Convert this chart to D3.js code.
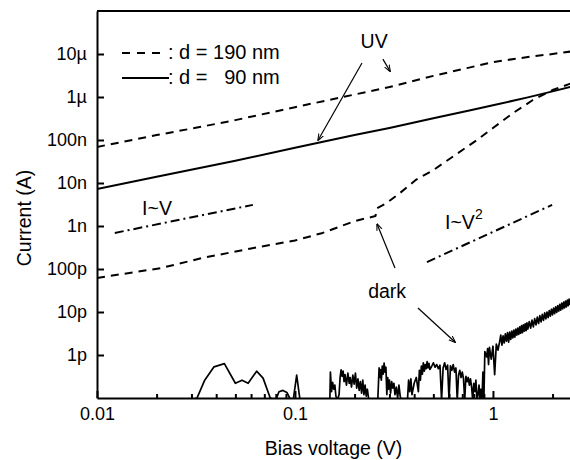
<!DOCTYPE html>
<html>
<head>
<meta charset="utf-8">
<script src="https://d3js.org/d3.v7.min.js"></script>
<style>
    html, body {
        margin: 0;
        padding: 0;
        background: #fff;
        overflow: hidden;
    }
    text {
        font-family: "Liberation Sans", Arial, sans-serif;
        fill: #000;
    }
</style>
</head>
<body>
<svg id="chart" width="570" height="460"></svg>
<script>
// ---- data: [bias voltage (V), current (A)] ----
var uv190 = [
    [0.01, 6.9e-8], [0.02, 1.3e-7], [0.033, 2.0e-7], [0.05, 2.9e-7], [0.1, 5.8e-7],
    [0.175, 1.0e-6], [0.3, 1.7e-6], [0.5, 3.1e-6], [0.74, 4.7e-6], [1.0, 6.5e-6],
    [1.5, 8.5e-6], [2.0, 1.0e-5], [2.5, 1.15e-5]
];
var uv90 = [
    [0.01, 7.2e-9], [0.02, 1.4e-8], [0.05, 3.3e-8], [0.1, 6.6e-8], [0.2, 1.3e-7],
    [0.3, 1.9e-7], [0.5, 3.2e-7], [0.77, 4.9e-7], [1.0, 6.4e-7], [1.5, 9.8e-7],
    [2.0, 1.35e-6], [2.5, 1.75e-6]
];
var dark190 = [
    [0.01, 6.2e-11], [0.021, 1.05e-10], [0.034, 1.8e-10], [0.06, 3.0e-10], [0.1, 4.6e-10],
    [0.138, 6.9e-10], [0.2, 1.3e-9], [0.255, 1.7e-9], [0.26, 2.6e-9], [0.29, 3.4e-9],
    [0.34, 5.9e-9], [0.41, 1.2e-8], [0.5, 2.0e-8], [0.65, 4.6e-8], [0.83, 1.0e-7],
    [1.0, 1.9e-7], [1.26, 4.2e-7], [1.59, 8.5e-7], [2.0, 1.45e-6], [2.5, 2.1e-6]
];
var dark90 = [
    [0.010, 0.9e-13], [0.030, 0.9e-13], [0.032, 1.0e-13], [0.035, 2.6e-13], [0.039, 5.3e-13], [0.044, 6.3e-13],
    [0.050, 2.2e-13], [0.054, 2.6e-13], [0.058, 2.2e-13], [0.064, 4.2e-13], [0.069, 2.9e-13], [0.075, 1.0e-13],
    [0.080, 0.9e-13], [0.083, 1.4e-13], [0.087, 1.5e-13], [0.091, 1.35e-13], [0.094, 1.0e-13], [0.098, 0.9e-13],
    [0.102, 3.4e-13], [0.106, 0.9e-13], [0.150, 0.9e-13],
    [0.151, 4.0e-13], [0.153, 1.4e-13], [0.155, 2.3e-13], [0.157, 1.6e-13], [0.159, 2.0e-13], [0.161, 1.1e-13],
    [0.164, 0.9e-13], [0.167, 1.2e-13], [0.169, 3.0e-13], [0.171, 4.5e-13], [0.173, 3.2e-13], [0.175, 4.2e-13],
    [0.177, 2.4e-13], [0.179, 3.5e-13], [0.182, 2.0e-13], [0.185, 3.8e-13], [0.188, 2.2e-13], [0.190, 3.0e-13],
    [0.193, 1.8e-13], [0.196, 3.4e-13], [0.199, 2.1e-13], [0.202, 3.8e-13], [0.205, 1.7e-13], [0.208, 2.8e-13],
    [0.211, 1.5e-13], [0.214, 2.4e-13], [0.217, 1.3e-13], [0.220, 2.6e-13], [0.223, 1.2e-13], [0.226, 2.0e-13],
    [0.229, 1.1e-13], [0.232, 1.6e-13], [0.236, 0.9e-13], [0.262, 0.9e-13],
    [0.266, 5.0e-13], [0.268, 3.0e-13], [0.270, 4.6e-13], [0.273, 2.6e-13], [0.276, 5.5e-13], [0.279, 3.6e-13],
    [0.282, 6.5e-13], [0.285, 4.0e-13], [0.288, 5.2e-13], [0.291, 1.2e-13], [0.294, 3.0e-13], [0.297, 1.6e-13],
    [0.300, 2.6e-13], [0.304, 1.3e-13], [0.308, 2.4e-13], [0.312, 1.7e-13], [0.316, 2.2e-13], [0.320, 1.2e-13],
    [0.325, 1.8e-13], [0.330, 1.0e-13], [0.335, 2.0e-13], [0.340, 1.1e-13], [0.345, 0.9e-13], [0.370, 0.9e-13],
    [0.375, 2.6e-13], [0.380, 1.4e-13], [0.385, 2.8e-13], [0.390, 1.2e-13], [0.400, 2.2e-13], [0.410, 3.0e-13],
    [0.420, 1.4e-13], [0.425, 4.4e-13], [0.430, 2.6e-13], [0.435, 5.5e-13], [0.440, 3.6e-13], [0.445, 6.6e-13],
    [0.450, 4.2e-13], [0.455, 6.0e-13], [0.460, 4.8e-13], [0.465, 7.0e-13], [0.470, 5.0e-13], [0.475, 6.4e-13],
    [0.480, 4.6e-13], [0.49, 5.4e-13], [0.50, 6.6e-13], [0.51, 5.2e-13], [0.52, 6.0e-13], [0.53, 4.8e-13],
    [0.54, 5.8e-13], [0.55, 0.9e-13], [0.56, 5.0e-13], [0.57, 6.6e-13], [0.58, 4.6e-13], [0.59, 5.8e-13],
    [0.60, 0.9e-13], [0.61, 5.6e-13], [0.62, 4.4e-13], [0.63, 6.0e-13], [0.64, 4.0e-13], [0.65, 5.0e-13],
    [0.66, 0.9e-13], [0.67, 3.4e-13], [0.68, 4.4e-13], [0.69, 3.0e-13], [0.70, 4.0e-13], [0.71, 2.8e-13],
    [0.72, 0.9e-13], [0.73, 3.2e-13], [0.74, 2.4e-13], [0.75, 3.0e-13], [0.76, 2.0e-13], [0.77, 2.8e-13],
    [0.78, 1.8e-13], [0.79, 0.9e-13], [0.80, 2.2e-13], [0.81, 1.4e-13], [0.82, 2.6e-13], [0.83, 0.9e-13],
    [0.84, 1.2e-13], [0.85, 2.0e-13], [0.86, 0.9e-13], [0.87, 1.6e-13], [0.88, 0.9e-13], [0.89, 4.0e-13],
    [0.90, 0.9e-13], [0.91, 1.2e-12], [0.93, 9.0e-13], [0.94, 1.4e-12], [0.95, 6.0e-13], [0.96, 1.5e-12],
    [0.98, 8.0e-13], [1.00, 1.6e-12], [1.02, 3.5e-13], [1.04, 1.8e-12], [1.06, 1.3e-12], [1.08, 2.0e-12],
    [1.095, 2.9e-12], [1.11, 1.7e-12], [1.125, 2.8e-12], [1.14, 1.9e-12], [1.155, 3.1e-12], [1.17, 2.1e-12],
    [1.185, 3.3e-12], [1.20, 2.0e-12], [1.215, 3.4e-12], [1.23, 2.3e-12], [1.245, 3.6e-12], [1.26, 2.5e-12],
    [1.275, 3.8e-12], [1.29, 2.6e-12], [1.305, 4.0e-12], [1.32, 2.9e-12], [1.335, 4.2e-12], [1.35, 3.0e-12],
    [1.365, 4.5e-12], [1.38, 3.2e-12], [1.395, 4.8e-12], [1.41, 3.3e-12], [1.425, 5.0e-12], [1.44, 3.6e-12],
    [1.455, 5.3e-12], [1.47, 3.7e-12], [1.485, 5.6e-12], [1.50, 4.0e-12], [1.525, 6.0e-12], [1.55, 4.2e-12],
    [1.575, 6.5e-12], [1.60, 4.5e-12], [1.625, 7.0e-12], [1.65, 5.0e-12], [1.675, 7.6e-12], [1.70, 5.4e-12],
    [1.725, 8.2e-12], [1.75, 5.9e-12], [1.775, 8.8e-12], [1.80, 6.4e-12], [1.825, 9.5e-12], [1.85, 6.9e-12],
    [1.875, 1.0e-11], [1.90, 7.4e-12], [1.925, 1.08e-11], [1.95, 8.0e-12], [1.975, 1.16e-11], [2.00, 8.6e-12],
    [2.025, 1.24e-11], [2.05, 9.2e-12], [2.075, 1.32e-11], [2.10, 9.8e-12], [2.125, 1.4e-11], [2.15, 1.05e-11],
    [2.175, 1.5e-11], [2.20, 1.1e-11], [2.225, 1.6e-11], [2.25, 1.18e-11], [2.275, 1.7e-11], [2.30, 1.25e-11],
    [2.325, 1.8e-11], [2.35, 1.32e-11], [2.375, 1.9e-11], [2.40, 1.4e-11], [2.425, 2.0e-11], [2.45, 1.5e-11],
    [2.475, 2.0e-11], [2.50, 1.6e-11]
];
// guide lines I~V and I~V^2
var fitLinear = [[0.0123, 6.9e-10], [0.0613, 3.1e-9]];
var fitSquare = [[0.464, 1.45e-10], [1.99, 3.1e-9]];

// ticks
var yTickValues = [1e-12, 1e-11, 1e-10, 1e-9, 1e-8, 1e-7, 1e-6, 1e-5];
var yTickLabels = ["1p", "10p", "100p", "1n", "10n", "100n", "1\u00b5", "10\u00b5"];
var xMajorTicks = [0.01, 0.1, 1];
var xMajorLabels = ["0.01", "0.1", "1"];
var xMinorTicks = [0.02, 0.03, 0.04, 0.05, 0.06, 0.07, 0.08, 0.09,
                   0.2, 0.3, 0.4, 0.5, 0.6, 0.7, 0.8, 0.9, 2];

// annotations, anchored in data units [V, I]
var notes = [
    {text: "UV", at: [0.251, 1.38e-5]},
    {text: "dark", at: [0.292, 2.1e-11]},
    {text: "I~V", at: [0.0201, 1.8e-9]}
];
var arrows = [
    [[0.218, 6.2e-6], [0.131, 1.0e-7]],
    [[0.278, 7.6e-6], [0.302, 4.0e-6]],
    [[0.32, 1.05e-10], [0.26, 1.1e-9]],
    [[0.418, 1.24e-11], [0.643, 2.0e-12]]
];

var svg = d3.select("#chart");
var mLeft = 97, mRight = 570, mTop = 11, mBottom = 398;

var x = d3.scaleLog().domain([0.01, 2.45]).range([mLeft, mRight]);
var y = d3.scaleLog().domain([1e-13, 1e-4]).range([mBottom, mTop]);

var defs = svg.append("defs");
defs.append("clipPath").attr("id", "plotclip")
    .append("rect")
    .attr("x", mLeft).attr("y", mTop)
    .attr("width", mRight - mLeft).attr("height", mBottom - mTop);

defs.append("marker")
    .attr("id", "head")
    .attr("viewBox", "0 -4 8 8")
    .attr("refX", 7).attr("refY", 0)
    .attr("markerWidth", 7).attr("markerHeight", 7)
    .attr("markerUnits", "userSpaceOnUse")
    .attr("orient", "auto")
    .append("path")
    .attr("d", "M0,-3L8,0L0,3")
    .attr("fill", "none")
    .attr("stroke", "#000")
    .attr("stroke-width", 1.2);

var line = d3.line()
    .x(function(d) { return x(d[0]); })
    .y(function(d) { return y(d[1]); });

var plot = svg.append("g").attr("clip-path", "url(#plotclip)");

function drawSeries(data, width, dash) {
    plot.append("path")
        .datum(data)
        .attr("d", line)
        .attr("fill", "none")
        .attr("stroke", "#000")
        .attr("stroke-width", width)
        .attr("stroke-linejoin", "round")
        .attr("stroke-dasharray", dash);
}

drawSeries(dark90, 1.7, null);
drawSeries(uv190, 2, "8,6");
drawSeries(dark190, 2, "8,6");
drawSeries(uv90, 2, null);
drawSeries(fitLinear, 2, "9,4,2,4");
drawSeries(fitSquare, 2, "9,4,2,4");

// axes
var yAxis = d3.axisLeft(y)
    .tickValues(yTickValues)
    .tickFormat(function(d, i) { return yTickLabels[i]; })
    .tickSizeInner(-7)
    .tickSizeOuter(0)
    .tickPadding(10);

var gy = svg.append("g")
    .attr("transform", "translate(" + mLeft + ",0)")
    .call(yAxis);

var xAxis = d3.axisBottom(x)
    .tickValues(xMajorTicks.concat(xMinorTicks))
    .tickFormat(function(d) {
        var i = xMajorTicks.indexOf(d);
        return i >= 0 ? xMajorLabels[i] : "";
    })
    .tickSizeInner(-7)
    .tickSizeOuter(0)
    .tickPadding(9);

var gx = svg.append("g")
    .attr("transform", "translate(0," + mBottom + ")")
    .call(xAxis);

gx.selectAll(".tick line")
    .attr("y2", function(d) { return xMajorTicks.indexOf(d) >= 0 ? -7 : -4; });

[gx, gy].forEach(function(g) {
    g.select(".domain").attr("stroke-width", 2);
    g.selectAll(".tick line").attr("stroke-width", 2);
    g.selectAll(".tick text")
        .attr("font-size", 18)
        .attr("fill", "#000");
});

// top frame line
svg.append("line")
    .attr("x1", mLeft).attr("x2", mRight)
    .attr("y1", mTop).attr("y2", mTop)
    .attr("stroke", "#000")
    .attr("stroke-width", 2);

// axis titles
svg.append("text")
    .attr("x", (mLeft + mRight) / 2)
    .attr("y", 455)
    .attr("text-anchor", "middle")
    .attr("font-size", 19.5)
    .text("Bias voltage (V)");

svg.append("text")
    .attr("transform", "translate(31,218) rotate(-90)")
    .attr("text-anchor", "middle")
    .attr("font-size", 19.5)
    .text("Current (A)");

// legend
var legend = svg.append("g");
legend.append("line")
    .attr("x1", 122).attr("x2", 167).attr("y1", 53).attr("y2", 53)
    .attr("stroke", "#000").attr("stroke-width", 2)
    .attr("stroke-dasharray", "8,7");
legend.append("line")
    .attr("x1", 122).attr("x2", 169).attr("y1", 78).attr("y2", 78)
    .attr("stroke", "#000").attr("stroke-width", 2);
legend.append("text")
    .attr("x", 168).attr("y", 59)
    .attr("font-size", 20)
    .style("white-space", "pre")
    .text(": d = 190 nm");
legend.append("text")
    .attr("x", 168).attr("y", 84)
    .attr("font-size", 20)
    .style("white-space", "pre")
    .text(": d =   90 nm");

// annotations
notes.forEach(function(n) {
    svg.append("text")
        .attr("x", x(n.at[0]))
        .attr("y", y(n.at[1]))
        .attr("text-anchor", "middle")
        .attr("font-size", 19.5)
        .text(n.text);
});

var sq = svg.append("text")
    .attr("x", x(0.573))
    .attr("y", y(8.5e-10))
    .attr("font-size", 19.5);
sq.append("tspan").text("I~V");
sq.append("tspan")
    .attr("dy", -10)
    .attr("font-size", 14)
    .text("2");

arrows.forEach(function(a) {
    svg.append("line")
        .attr("x1", x(a[0][0])).attr("y1", y(a[0][1]))
        .attr("x2", x(a[1][0])).attr("y2", y(a[1][1]))
        .attr("stroke", "#000")
        .attr("stroke-width", 1.2)
        .attr("marker-end", "url(#head)");
});
</script>
</body>
</html>
